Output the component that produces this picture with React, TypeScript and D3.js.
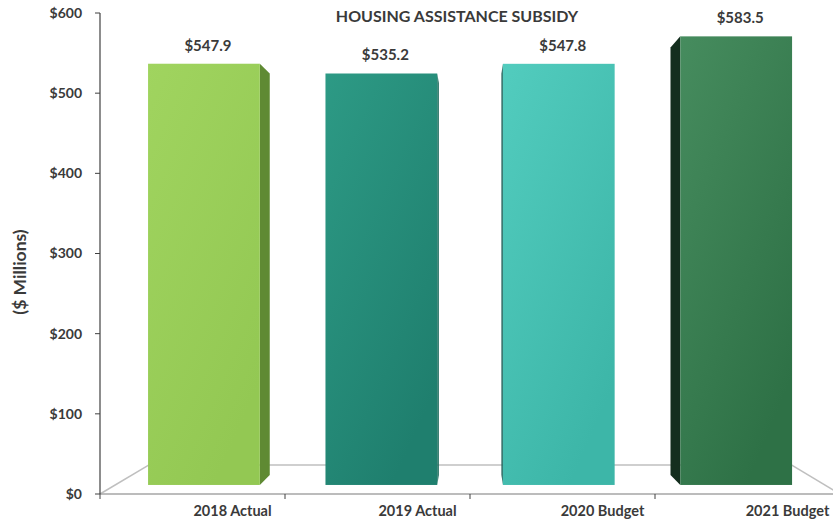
import React from "react";
import * as d3 from "d3";

const categories = ["2018 Actual", "2019 Actual", "2020 Budget", "2021 Budget"];
const values = [547.9, 535.2, 547.8, 583.5];
const valueLabels = ["$547.9", "$535.2", "$547.8", "$583.5"];
const yTicks = [0, 100, 200, 300, 400, 500, 600];
const yTickLabels = ["$0", "$100", "$200", "$300", "$400", "$500", "$600"];
const frontTop = ["#a0d45f", "#2d9a85", "#52ccbe", "#468c5e"];
const frontBottom = ["#93c853", "#1f7f6e", "#3db6a8", "#2e7146"];
const sideColors = ["#5f8a33", "#1a6a5b", "#1e5e57", "#142e1e"];
const title = "HOUSING ASSISTANCE SUBSIDY";
const yTitle = "($ Millions)";

const W = 833;
const H = 520;
const FONT = "Lato, 'Open Sans', 'DejaVu Sans', sans-serif";
const TEXT = "#3a3a3a";
const V = { x: 471.5, y: 273.5 };
const sFront = 0.959;
const sBack = 0.914;
const sFloor = 0.868;

export default function App() {
  const x = d3
    .scaleBand<string>()
    .domain(categories)
    .range([100, 840])
    .paddingInner(0.37)
    .paddingOuter(0.185);
  const y = d3.scaleLinear().domain([0, 600]).range([494, 13]);

  const P = (px: number, py: number, s: number): [number, number] => [
    V.x + (px - V.x) * s,
    V.y + (py - V.y) * s,
  ];
  const pts = (arr: [number, number][]) => arr.map((p) => p.join(",")).join(" ");

  const y0 = y(0);
  const [fl0, fl1] = x.range();
  const floorBackL = P(fl0, y0, sFloor);
  const floorBackR = P(fl1, y0, sFloor);
  const boundaries = d3.range(categories.length + 1).map((i) => fl0 + i * x.step());

  return (
    <svg
      width={W}
      height={H}
      style={{ position: "absolute", left: 0, top: 0, background: "#fff" }}
      fontFamily={FONT}
    >
      <defs>
        {categories.map((c, i) => (
          <linearGradient key={c} id={`g${i}`} x1="0" y1="0" x2="0.6" y2="1">
            <stop offset="0" stopColor={frontTop[i]} />
            <stop offset="1" stopColor={frontBottom[i]} />
          </linearGradient>
        ))}
      </defs>

      {/* floor */}
      <g stroke="#bfbfbf" strokeWidth={1.5} fill="none">
        <line x1={floorBackL[0]} y1={floorBackL[1]} x2={floorBackR[0]} y2={floorBackR[1]} />
        <line x1={fl0} y1={y0} x2={floorBackL[0]} y2={floorBackL[1]} />
        <line x1={fl1} y1={y0} x2={floorBackR[0]} y2={floorBackR[1]} />
      </g>

      {/* x axis */}
      <line x1={fl0} y1={y0} x2={fl1} y2={y0} stroke="#a6a6a6" strokeWidth={1.5} />
      {boundaries.map((b, i) => (
        <line key={i} x1={b} y1={y0} x2={b} y2={y0 + 5} stroke="#404040" strokeWidth={1} />
      ))}

      {/* bars */}
      {categories.map((c, i) => {
        const bx0 = x(c)!;
        const bx1 = bx0 + x.bandwidth();
        const cx = bx0 + x.bandwidth() / 2;
        const top = y(values[i]);
        const edge = cx < V.x ? bx1 : bx0;
        const side: [number, number][] = [
          P(edge, top, sFront),
          P(edge, y0, sFront),
          P(edge, y0, sBack),
          P(edge, top, sBack),
        ];
        const f0 = P(bx0, top, sFront);
        const f1 = P(bx1, y0, sFront);
        const lc = P(cx, top, sFront);
        return (
          <g key={c}>
            <polygon points={pts(side)} fill={sideColors[i]} />
            <rect
              x={f0[0]}
              y={f0[1]}
              width={f1[0] - f0[0]}
              height={f1[1] - f0[1]}
              fill={`url(#g${i})`}
            />
            <text
              x={lc[0] + 4}
              y={lc[1] - 13}
              textAnchor="middle"
              fontSize={15}
              fontWeight="bold"
              fill={TEXT}
            >
              {valueLabels[i]}
            </text>
            <text
              x={cx + 40}
              y={516}
              textAnchor="middle"
              fontSize={14.5}
              fontWeight="bold"
              fill={TEXT}
            >
              {c}
            </text>
          </g>
        );
      })}

      {/* y axis */}
      <line x1={100} y1={y(600)} x2={100} y2={y0} stroke="#404040" strokeWidth={1.2} />
      {yTicks.map((t, i) => (
        <g key={t}>
          <line x1={95} y1={y(t)} x2={100} y2={y(t)} stroke="#404040" strokeWidth={1} />
          <text
            x={82}
            y={y(t)}
            dy="0.35em"
            textAnchor="end"
            fontSize={14}
            fontWeight="bold"
            fill={TEXT}
          >
            {yTickLabels[i]}
          </text>
        </g>
      ))}

      <text
        transform={`translate(26,272) rotate(-90)`}
        textAnchor="middle"
        fontSize={17.5}
        fontWeight="bold"
        fill={TEXT}
      >
        {yTitle}
      </text>

      <text x={457} y={21.5} textAnchor="middle" fontSize={16} fontWeight="bold" fill={TEXT}>
        {title}
      </text>
    </svg>
  );
}
